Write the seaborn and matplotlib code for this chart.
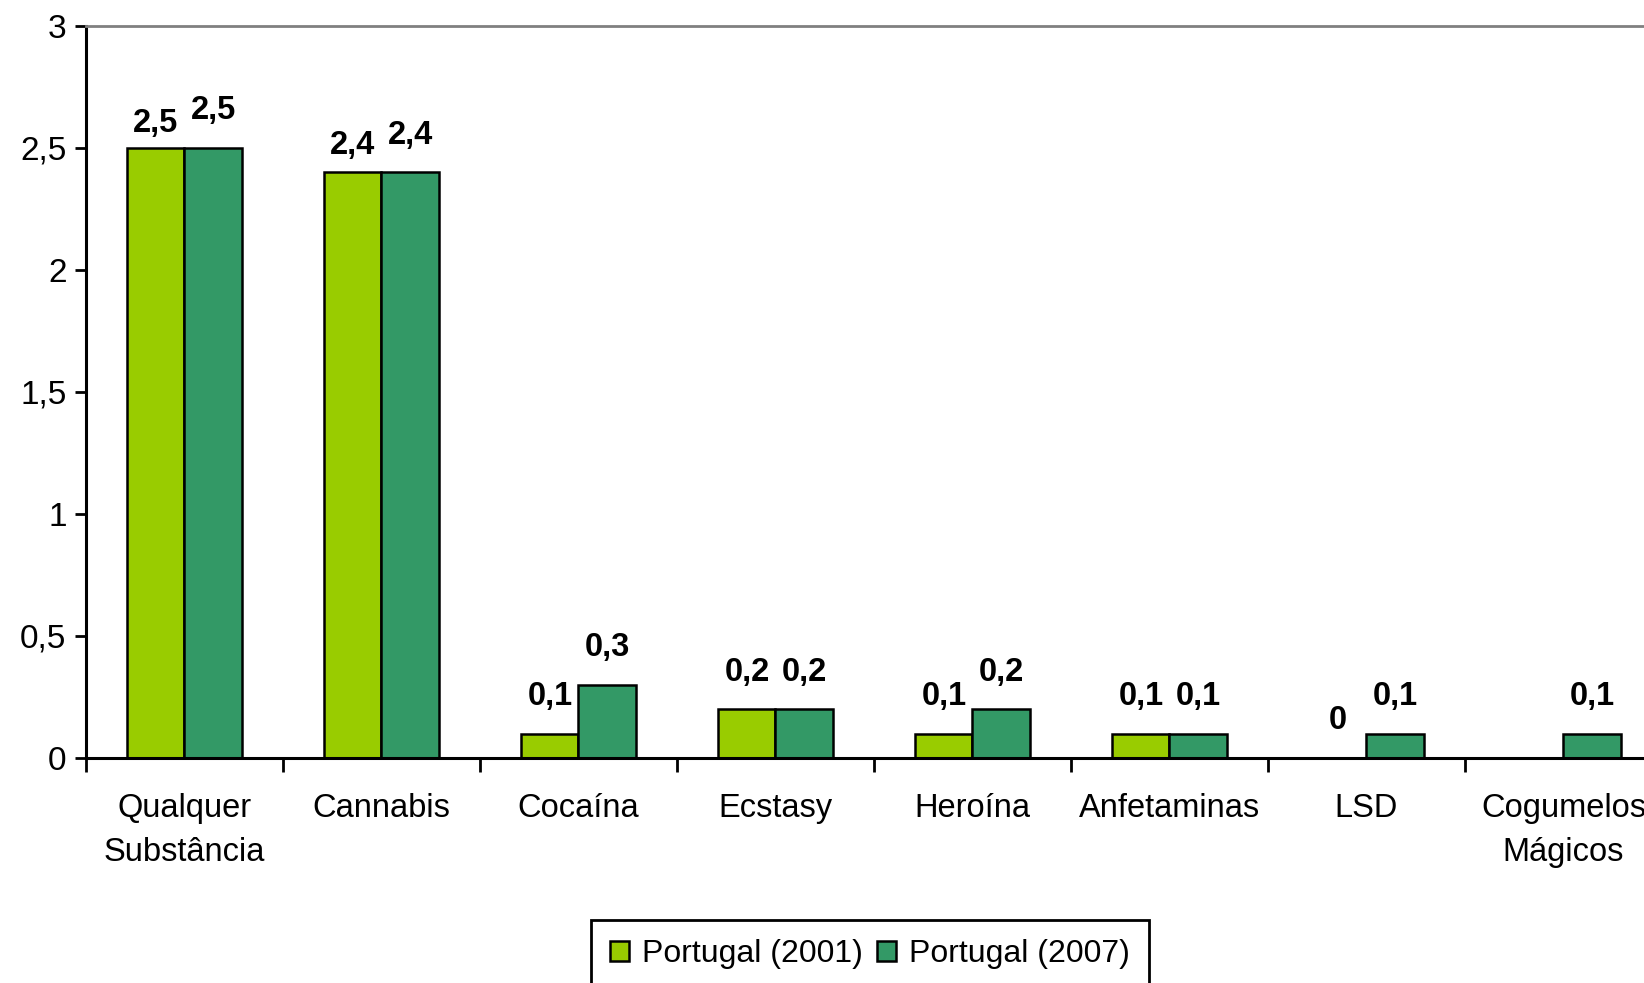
import numpy as np
import pandas as pd
import matplotlib
matplotlib.use("Agg")
import matplotlib.pyplot as plt
from matplotlib.ticker import FuncFormatter, FixedLocator
import seaborn as sns

# data
categories = ["Qualquer\nSubstância", "Cannabis", "Cocaína", "Ecstasy", "Heroína",
              "Anfetaminas", "LSD", "Cogumelos\nMágicos"]
series_names = ["Portugal (2001)", "Portugal (2007)"]
values_2001 = [2.5, 2.4, 0.1, 0.2, 0.1, 0.1, 0.0, np.nan]
values_2007 = [2.5, 2.4, 0.3, 0.2, 0.2, 0.1, 0.1, 0.1]
colors = ["#99CC00", "#339966"]

df = pd.DataFrame({
    "categoria": categories * 2,
    "serie": [series_names[0]] * len(categories) + [series_names[1]] * len(categories),
    "valor": values_2001 + values_2007,
})

sns.set_style("white")
plt.rcParams["font.family"] = ["Liberation Sans", "DejaVu Sans"]
plt.rcParams["text.color"] = "black"
plt.rcParams["xtick.color"] = "black"
plt.rcParams["ytick.color"] = "black"
plt.rcParams["xtick.labelcolor"] = "black"
plt.rcParams["ytick.labelcolor"] = "black"

fig = plt.figure(figsize=(16.44, 9.83), dpi=100)
ax = fig.add_axes([0.0523, 0.2289, 0.9586, 0.7447])

sns.barplot(data=df, x="categoria", y="valor", hue="serie", order=categories,
            hue_order=series_names, palette=colors, width=0.58, dodge=True,
            edgecolor="black", linewidth=1.8, saturation=1, errorbar=None, ax=ax)

ax.set_xlim(-0.5, len(categories) - 0.5)
ax.set_ylim(0, 3)
ax.set_xlabel("")
ax.set_ylabel("")

# data labels, a couple of 2001 ones were nudged down in the original
nudge = {(0, 0): -13, (0, 1): -10}
for si, cont in enumerate(ax.containers):
    for patch in cont.patches:
        h = patch.get_height()
        if np.isnan(h):
            continue
        xc = patch.get_x() + patch.get_width() / 2
        ci = int(round(xc))
        dy = 37 + nudge.get((si, ci), 0)
        ax.annotate(f"{h:g}".replace(".", ","), (xc, h), xytext=(0, dy),
                    textcoords="offset pixels", ha="center", va="center",
                    fontsize=23.5, fontweight="bold", color="black")

# axis styling
ax.yaxis.set_major_locator(FixedLocator([0, 0.5, 1, 1.5, 2, 2.5, 3]))
ax.yaxis.set_major_formatter(FuncFormatter(lambda v, p: f"{v:g}".replace(".", ",")))
ax.tick_params(axis="y", direction="out", length=8, width=2, labelsize=24, pad=6, left=True)
ax.set_xticks(range(len(categories)))
ax.set_xticklabels(categories)
ax.set_xticks(np.arange(-0.5, len(categories), 1), minor=True)
ax.tick_params(axis="x", which="major", length=0, labelsize=23.5, pad=25)
ax.tick_params(axis="x", which="minor", direction="out", length=10, width=2, bottom=True)
for lab in ax.get_xticklabels():
    lab.set_linespacing(1.55)

for side in ["left", "bottom"]:
    ax.spines[side].set_color("black")
    ax.spines[side].set_linewidth(2.2)
ax.spines["top"].set_color("#808080")
ax.spines["top"].set_linewidth(2)
ax.spines["right"].set_visible(False)

handles, labels = ax.get_legend_handles_labels()
ax.get_legend().remove()
leg = fig.legend(handles, labels, loc="upper center", bbox_to_anchor=(0.529, 0.064),
                 ncol=2, fontsize=23, frameon=True, fancybox=False, edgecolor="black",
                 framealpha=1, handlelength=0.6, handleheight=0.6, handletextpad=0.4,
                 columnspacing=0.45, borderpad=0.6, borderaxespad=0)
leg.get_frame().set_linewidth(2)

fig.savefig("out.png", dpi=100)
